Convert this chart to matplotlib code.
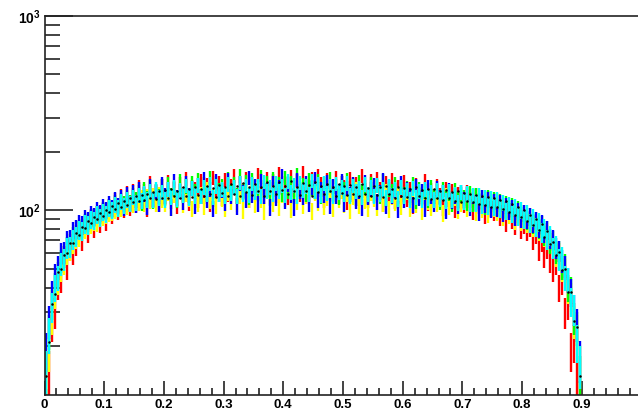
import numpy as np
import matplotlib
matplotlib.use("Agg")
import matplotlib.pyplot as plt
from matplotlib.ticker import FixedLocator, MultipleLocator, FuncFormatter, NullFormatter

# histogram binning: 180 bins of width 0.005 from 0 to 0.9
bin_edges = np.linspace(0.0, 0.9, 181)

red = [9, 15, 26, 30, 41, 44, 58, 51, 63, 60,
       66, 79, 70, 84, 77, 92, 81, 95, 86, 99,
       88, 104, 95, 112, 99, 118, 101, 122, 104, 125,
       107, 131, 111, 126, 103, 138, 115, 124, 109, 133,
       117, 140, 112, 129, 106, 136, 121, 145, 110, 131,
       128, 114, 142, 119, 135, 108, 147, 125, 138, 116,
       143, 121, 134, 150, 118, 139, 127, 145, 113, 136,
       124, 152, 131, 118, 146, 129, 141, 120, 155, 133,
       138, 117, 149, 128, 142, 122, 157, 134, 119, 146,
       125, 151, 136, 114, 144, 131, 123, 148, 118, 139,
       132, 111, 145, 124, 137, 116, 150, 127, 113, 141,
       120, 146, 129, 108, 138, 122, 143, 112, 131, 119,
       140, 115, 128, 106, 135, 121, 117, 142, 110, 127,
       113, 133, 119, 104, 129, 115, 125, 101, 121, 112,
       107, 124, 113, 99, 120, 106, 111, 95, 115, 102,
       98, 112, 93, 101, 87, 99, 90, 84, 93, 80,
       85, 78, 82, 71, 76, 63, 69, 58, 64, 55,
       50, 54, 40, 43, 30, 33, 19, 21, 13, 10]

yellow = [12, 19, 28, 37, 43, 50, 54, 60, 63, 68,
          72, 73, 78, 80, 84, 85, 88, 87, 92, 93,
          95, 97, 98, 100, 103, 102, 106, 105, 109, 107,
          113, 110, 116, 109, 118, 112, 120, 108, 121, 114,
          109, 123, 104, 120, 113, 128, 107, 122, 115, 102,
          124, 109, 121, 105, 129, 112, 118, 106, 126, 115,
          103, 123, 111, 131, 108, 119, 100, 125, 114, 128,
          107, 121, 113, 99, 127, 117, 109, 130, 104, 120,
          115, 128, 101, 122, 111, 132, 106, 118, 125, 99,
          123, 110, 129, 105, 116, 124, 102, 119, 113, 126,
          107, 122, 100, 117, 128, 106, 120, 112, 103, 123,
          115, 104, 121, 109, 125, 101, 117, 110, 121, 105,
          117, 124, 102, 114, 107, 120, 99, 116, 111, 104,
          118, 108, 114, 97, 119, 105, 112, 116, 100, 109,
          112, 103, 109, 114, 98, 107, 101, 110, 96, 104,
          102, 98, 105, 93, 100, 95, 97, 89, 94, 88,
          90, 86, 87, 82, 84, 78, 79, 73, 75, 68,
          66, 59, 60, 50, 49, 39, 36, 27, 24, 16]

green = [15, 24, 33, 41, 47, 55, 58, 65, 67, 73,
         75, 80, 81, 86, 87, 91, 92, 96, 95, 100,
         99, 104, 101, 109, 105, 112, 108, 116, 110, 119,
         113, 124, 110, 128, 115, 131, 112, 126, 118, 134,
         116, 137, 119, 130, 114, 141, 120, 133, 117, 138,
         125, 143, 118, 136, 122, 148, 115, 139, 127, 133,
         120, 146, 124, 137, 119, 151, 126, 140, 117, 144,
         131, 123, 149, 127, 138, 116, 145, 129, 136, 122,
         147, 125, 139, 118, 152, 128, 135, 121, 144, 130,
         126, 141, 119, 137, 124, 146, 122, 133, 117, 139,
         128, 143, 121, 135, 116, 140, 125, 131, 118, 137,
         123, 134, 119, 141, 115, 129, 126, 136, 113, 132,
         121, 130, 117, 136, 112, 128, 119, 125, 114, 131,
         118, 126, 111, 129, 115, 123, 108, 127, 113, 121,
         116, 110, 123, 108, 119, 112, 117, 105, 116, 109,
         113, 104, 111, 100, 108, 101, 105, 96, 101, 94,
         97, 89, 93, 85, 89, 80, 84, 74, 79, 68,
         70, 61, 62, 51, 52, 40, 39, 28, 25, 14]

blue = [19, 27, 37, 46, 51, 60, 61, 70, 71, 78,
        80, 85, 84, 91, 89, 96, 93, 100, 97, 104,
        100, 108, 103, 113, 106, 117, 104, 121, 108, 124,
        107, 129, 112, 121, 105, 133, 114, 125, 108, 137,
        119, 128, 104, 142, 116, 126, 111, 139, 120, 130,
        106, 135, 118, 146, 113, 129, 102, 141, 121, 127,
        110, 144, 118, 132, 105, 138, 124, 113, 147, 120,
        134, 108, 142, 119, 127, 104, 139, 116, 131, 150,
        112, 136, 120, 104, 143, 125, 117, 138, 109, 131,
        145, 114, 128, 120, 140, 106, 133, 118, 126, 142,
        109, 130, 121, 137, 112, 126, 104, 140, 117, 129,
        135, 111, 124, 143, 106, 131, 119, 127, 101, 138,
        114, 129, 120, 107, 134, 116, 126, 103, 131, 118,
        109, 130, 117, 124, 100, 127, 112, 119, 106, 124,
        113, 121, 104, 118, 110, 98, 116, 107, 114, 101,
        111, 103, 109, 97, 106, 99, 103, 93, 99, 91,
        97, 90, 93, 86, 89, 81, 85, 77, 79, 72,
        71, 64, 62, 55, 51, 44, 38, 31, 26, 17]

cyan = [15, 23, 32, 40, 45, 53, 56, 64, 65, 71,
        73, 79, 78, 85, 84, 90, 89, 95, 92, 98,
        96, 103, 100, 107, 103, 111, 106, 114, 108, 117,
        110, 120, 112, 123, 114, 126, 113, 128, 116, 124,
        114, 129, 117, 132, 115, 127, 120, 134, 116, 130,
        119, 135, 118, 131, 121, 137, 117, 133, 122, 128,
        119, 136, 123, 132, 118, 139, 122, 134, 120, 137,
        124, 133, 118, 140, 125, 131, 121, 138, 126, 134,
        120, 141, 124, 135, 119, 139, 127, 133, 121, 142,
        125, 136, 120, 138, 123, 134, 118, 137, 124, 131,
        122, 138, 119, 134, 125, 130, 117, 136, 121, 132,
        118, 135, 122, 129, 116, 133, 120, 128, 115, 131,
        119, 127, 114, 130, 117, 126, 113, 129, 116, 124,
        114, 127, 115, 124, 112, 126, 113, 121, 110, 124,
        111, 122, 109, 120, 108, 119, 106, 117, 105, 115,
        104, 113, 101, 110, 99, 107, 96, 104, 93, 100,
        90, 97, 86, 92, 82, 87, 77, 81, 71, 74,
        64, 66, 56, 57, 45, 44, 34, 31, 21, 16]

black = [14, 21, 33, 37, 48, 50, 59, 60, 68, 68,
         76, 75, 82, 81, 88, 86, 92, 90, 97, 94,
         100, 98, 105, 102, 109, 104, 112, 107, 115, 110,
         118, 111, 120, 113, 122, 115, 124, 114, 125, 116,
         127, 115, 129, 118, 126, 116, 131, 119, 128, 117,
         132, 120, 128, 118, 134, 121, 130, 117, 135, 123,
         131, 119, 136, 122, 133, 118, 138, 124, 132, 120,
         137, 125, 131, 119, 139, 126, 133, 121, 140, 127,
         134, 122, 141, 125, 132, 120, 138, 126, 135, 119,
         139, 124, 133, 121, 137, 125, 131, 118, 136, 123,
         134, 120, 135, 122, 132, 119, 137, 121, 130, 118,
         133, 120, 131, 117, 134, 121, 129, 116, 132, 118,
         130, 117, 128, 116, 131, 119, 127, 115, 129, 114,
         128, 116, 126, 113, 127, 115, 124, 112, 125, 110,
         123, 111, 122, 110, 120, 108, 119, 107, 117, 104,
         116, 104, 113, 101, 111, 98, 108, 95, 104, 92,
         100, 88, 95, 84, 90, 79, 85, 73, 78, 67,
         69, 59, 61, 49, 50, 38, 38, 27, 25, 14]

series = [(red, "#ff0000"), (yellow, "#ffff00"), (green, "#00ff00"),
          (blue, "#0000ff"), (cyan, "#00ffff")]

plt.rcParams["font.family"] = "Liberation Sans"
plt.rcParams["mathtext.fontset"] = "custom"
plt.rcParams["mathtext.rm"] = "Liberation Sans:bold"
plt.rcParams["mathtext.bf"] = "Liberation Sans:bold"

fig = plt.figure(figsize=(6.38, 4.13), dpi=100)
ax = fig.add_axes([44.5 / 638, 18 / 413, 597 / 638, 379 / 413])

centers = 0.5 * (bin_edges[:-1] + bin_edges[1:])
for vals, col in series:
    v = np.array(vals, dtype=float)
    ax.errorbar(centers, v, yerr=np.sqrt(v), fmt="none", ecolor=col, elinewidth=1.7, capsize=0)
ax.plot(centers, black, "o", color="black", markersize=1.8, markeredgewidth=0)

ax.set_yscale("log")
ax.set_xlim(0, 1.0)
ax.set_ylim(11.2, 1000)

for s in ["top", "left", "bottom"]:
    ax.spines[s].set_linewidth(1.2)
    ax.spines[s].set_color("#222222")
ax.spines["right"].set_visible(False)

ax.xaxis.set_major_locator(FixedLocator(np.round(np.arange(0, 0.95, 0.1), 1)))
ax.xaxis.set_minor_locator(MultipleLocator(0.02))
ax.xaxis.set_major_formatter(FuncFormatter(lambda v, p: "0" if abs(v) < 1e-9 else f"{v:.1f}"))
ax.yaxis.set_major_locator(FixedLocator([100, 1000]))
ax.yaxis.set_minor_locator(FixedLocator([20, 30, 40, 50, 60, 70, 80, 90,
                                         200, 300, 400, 500, 600, 700, 800, 900]))
ax.yaxis.set_major_formatter(FuncFormatter(lambda v, p: r"$\mathbf{10^{%d}}$" % round(np.log10(v))))
ax.yaxis.set_minor_formatter(NullFormatter())

ax.tick_params(axis="x", which="major", direction="in", length=10, width=1.2, color="#222222",
               labelsize=9.5, pad=3)
ax.tick_params(axis="x", which="minor", direction="in", length=5, width=1.2, color="#222222")
ax.tick_params(axis="y", which="major", direction="in", length=20, width=1.2, color="#222222",
               labelsize=10, pad=3)
ax.tick_params(axis="y", which="minor", direction="in", length=11, width=1.2, color="#222222")
for lab in ax.get_xticklabels():
    lab.set_fontweight("bold")

fig.savefig("out.png", dpi=100)
